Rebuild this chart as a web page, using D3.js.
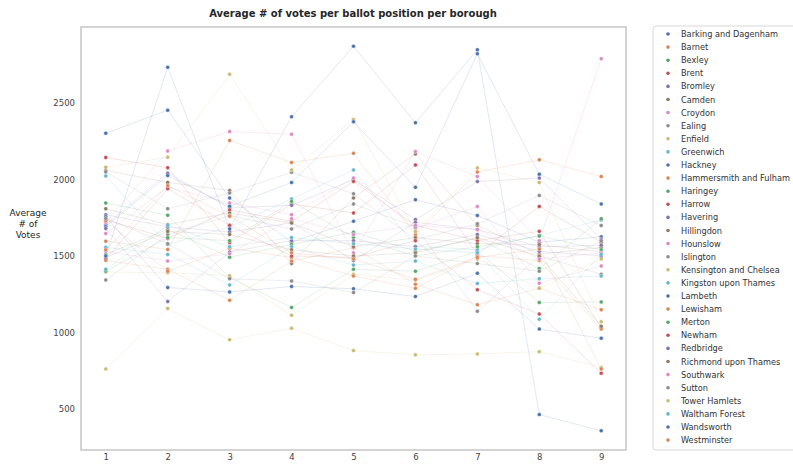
<!DOCTYPE html>
<html><head><meta charset="utf-8">
<script src="https://cdn.jsdelivr.net/npm/d3@7/dist/d3.min.js"></script>
<style>body{margin:0;background:#fff;}svg{font-family:"DejaVu Sans",sans-serif;}</style>
</head><body><svg id="c" width="793" height="464"></svg>
<script>
const positions = [1,2,3,4,5,6,7,8,9];
const yTicks = [500,1000,1500,2000,2500];
const boroughs = ["Barking and Dagenham","Barnet","Bexley","Brent","Bromley","Camden","Croydon","Ealing","Enfield","Greenwich","Hackney","Hammersmith and Fulham","Haringey","Harrow","Havering","Hillingdon","Hounslow","Islington","Kensington and Chelsea","Kingston upon Thames","Lambeth","Lewisham","Merton","Newham","Redbridge","Richmond upon Thames","Southwark","Sutton","Tower Hamlets","Waltham Forest","Wandsworth","Westminster"];
const palette = ["#4C72B0","#DD8452","#55A868","#C44E52","#8172B3","#937860","#DA8BC3","#8C8C8C","#CCB974","#64B5CD"];
const votes = [
 [2303,2454,1879,1590,1727,1868,1765,1590,1625], // Barking and Dagenham
 [1596,1542,2256,2112,2172,1640,2050,2129,2020], // Barnet
 [1847,1766,1358,1163,1412,1400,1530,1195,1199], // Bexley
 [2144,2078,1586,1840,1781,2096,1510,1824,1590], // Brent
 [1705,2042,1814,1831,2000,1738,1987,2010,1610], // Bromley
 [2060,1981,1928,1450,1880,2168,1700,1510,1555], // Camden
 [1647,1951,1847,1770,2010,1680,1824,1321,1434], // Croydon
 [2050,1809,1912,2048,1907,1607,1710,1896,1699], // Ealing
 [2080,2146,2690,2063,2394,1660,2076,1981,1069], // Enfield
 [2024,1575,1690,1873,2063,1564,1540,1635,1735], // Greenwich
 [1692,2026,1825,1981,2378,1949,2824,2035,1840], // Hackney
 [1470,1412,1210,1466,1553,1315,1180,1288,1147], // Hammersmith and Fulham
 [1511,1673,1492,1575,1655,1531,1614,1417,1743], // Haringey
 [1737,1614,1800,1727,1987,1700,1600,1661,1032], // Harrow
 [1770,1690,1657,1716,1470,1720,1673,1560,1570], // Havering
 [1809,1705,1781,1716,1560,1620,1580,1575,1525], // Hillingdon
 [1720,2187,2314,2297,1520,2183,2020,1600,2791], // Hounslow
 [1342,1640,1764,1677,1840,1690,1137,1500,1380], // Islington
 [1395,1390,1370,1112,1380,1340,1480,1288,1480], // Kensington and Chelsea
 [1556,1510,1310,1560,1440,1466,1319,1351,1368], // Kingston upon Thames
 [1757,1293,1264,1300,1285,1234,1386,1021,961],  // Lambeth
 [1730,1400,1550,1490,1368,1288,1500,1470,1021], // Lewisham
 [1400,1620,1600,1857,1620,1500,1560,1630,1540], // Merton
 [1480,1940,1700,1500,1490,1600,1278,1119,732],  // Newham
 [1680,1201,1525,1600,1600,1560,1640,1530,1500], // Redbridge
 [1490,1660,1640,1540,1500,1520,1620,1497,1040], // Richmond upon Thames
 [1530,1466,1514,1744,1640,1700,1673,1480,1520], // Southwark
 [1745,1580,1350,1336,1260,1500,1450,1400,1600], // Sutton
 [760,1156,951,1026,880,852,858,873,770],        // Tower Hamlets
 [1412,1700,1560,1620,1580,1545,1520,1086,1510], // Waltham Forest
 [1500,2735,1677,2411,2873,2372,2850,461,355],   // Wandsworth
 [1540,1960,1760,1520,1480,1347,1490,1545,760]   // Westminster
];

const svg = d3.select("#c");
const L=81, R=626, T=27, B=450;
const x = d3.scaleLinear().domain([0.6,9.4]).range([L,R]);
const allV = votes.flat();
const mn = d3.min(allV), mx = d3.max(allV), pad=(mx-mn)*0.05;
const y = d3.scaleLinear().domain([mn-pad, mx+pad]).range([B,T]);

svg.append("text").attr("x",353).attr("y",17).attr("text-anchor","middle")
  .attr("font-size",10).attr("font-weight","bold").attr("fill","#262626")
  .text("Average # of votes per ballot position per borough");

// axes
const gx = svg.append("g").attr("transform",`translate(0,${B})`)
  .call(d3.axisBottom(x).tickValues(positions).tickSize(0).tickPadding(4).tickFormat(d3.format("d")));
const gy = svg.append("g").attr("transform",`translate(${L},0)`)
  .call(d3.axisLeft(y).tickValues(yTicks).tickSize(0).tickPadding(6).tickFormat(d3.format("d")));
[gx,gy].forEach(g=>{g.select(".domain").remove();
  g.selectAll("text").attr("font-size",8.5).attr("fill","#444").attr("font-family","DejaVu Sans, sans-serif");});

// lines
const line = d3.line().x((d,i)=>x(positions[i])).y(d=>y(d));
votes.forEach((s,k)=>{
  svg.append("path").attr("d",line(s)).attr("fill","none")
    .attr("stroke",palette[k%10]).attr("stroke-opacity",0.16).attr("stroke-width",1);
});
votes.forEach((s,k)=>{
  svg.append("g").selectAll("circle").data(s).join("circle")
    .attr("cx",(d,i)=>x(positions[i])).attr("cy",d=>y(d)).attr("r",2)
    .attr("fill",palette[k%10]).attr("stroke","#fff").attr("stroke-width",0.4);
});

// frame
svg.append("rect").attr("x",L).attr("y",T).attr("width",R-L).attr("height",B-T)
  .attr("fill","none").attr("stroke","#b8b8b8").attr("stroke-width",1.2);

// y label
const yl = svg.append("text").attr("text-anchor","middle").attr("font-size",9).attr("fill","#262626");
["Average","# of","Votes"].forEach((t,i)=>yl.append("tspan").attr("x",28).attr("y",216+i*11).text(t));

// legend
const lg = svg.append("g");
lg.append("rect").attr("x",653).attr("y",26).attr("width",160).attr("height",424).attr("rx",3)
  .attr("fill","#fff").attr("stroke","#d8d8d8").attr("stroke-width",1);
boroughs.forEach((b,k)=>{
  const yy = 34 + k*13.1;
  lg.append("circle").attr("cx",668).attr("cy",yy).attr("r",1.8).attr("fill",palette[k%10]);
  lg.append("text").attr("x",681).attr("y",yy+3).attr("font-size",8.2).attr("fill","#333").text(b);
});
</script></body></html>
